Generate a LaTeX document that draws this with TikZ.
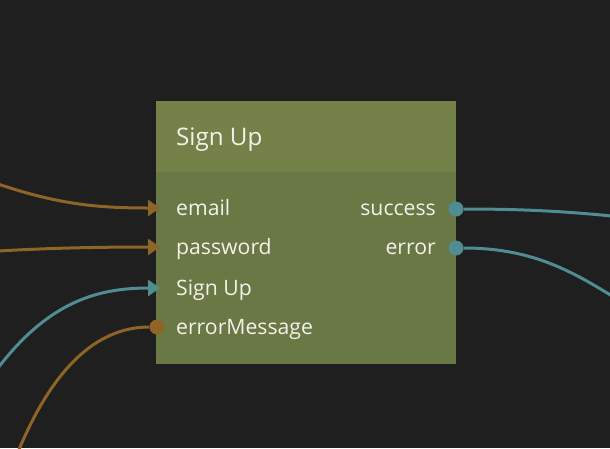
\documentclass[tikz,border=0pt]{standalone}
\usepackage{fontspec}
\setmainfont{Open Sans}
\usetikzlibrary{arrows.meta}

\definecolor{bgdark}{HTML}{1F1F1F}
\definecolor{headgreen}{HTML}{74824A}
\definecolor{bodygreen}{HTML}{6A7845}
\definecolor{wireorange}{HTML}{8F6427}
\definecolor{wireteal}{HTML}{4F8D90}
\definecolor{labelwhite}{HTML}{F2F2EA}

\begin{document}
\begin{tikzpicture}[x=1pt,y=-1pt,
    wire/.style={line width=3pt},
    tip/.style={-{Triangle[length=12pt,width=16pt]}},
    dot/.style={circle,fill,inner sep=0pt,minimum size=15pt},
    lbl/.style={text=labelwhite,font=\fontsize{21.2}{25}\selectfont,inner sep=0pt}]
    \fill[bgdark] (0,0) rectangle (610,448);
    \useasboundingbox (0,0) rectangle (610,448);
    % node body
    \fill[bodygreen] (156,101) rectangle (456,364);
    \fill[headgreen] (156,101) rectangle (456,172);
    \node[lbl,font=\fontsize{24.2}{28}\selectfont,anchor=base west] (title) at (176,145) {Sign Up};
    % ports
    \coordinate (inEmail) at (160,208);
    \coordinate (inPassword) at (160,247);
    \coordinate (inSignUp) at (160,288);
    \node[dot,wireorange] (inError) at (157,327) {};
    \node[dot,wireteal] (outSuccess) at (456,209) {};
    \node[dot,wireteal] (outError) at (456,248) {};
    \node[lbl,anchor=base west] (lEmail) at (176,215) {email};
    \node[lbl,anchor=base west] (lPassword) at (176,254) {password};
    \node[lbl,anchor=base west] (lSignUp) at (176,295) {Sign Up};
    \node[lbl,anchor=base west] (lError) at (176,334) {errorMessage};
    \node[lbl,anchor=base east] (lSuccess) at (436,215) {success};
    \node[lbl,anchor=base east] (lFail) at (436,254) {error};
    % free wire ends
    \coordinate (srcEmail) at (-2,184);
    \coordinate (srcPassword) at (-2,251);
    \coordinate (srcSignUp) at (-2,368);
    \coordinate (srcError) at (18,452);
    \coordinate (dstSuccess) at (612,216);
    \coordinate (dstError) at (612,296);
    % wires
    \draw[wire,tip,wireorange] (srcEmail) .. controls (60,205) and (100,208) .. (inEmail);
    \draw[wire,tip,wireorange] (srcPassword) .. controls (50,248) and (100,247) .. (inPassword);
    \draw[wire,tip,wireteal] (srcSignUp) .. controls (50,300) and (100,288) .. (inSignUp);
    \draw[wire,wireorange] (srcError) .. controls (60,350) and (110,327) .. (inError);
    \draw[wire,wireteal] (outSuccess) .. controls (530,209) and (570,212) .. (dstSuccess);
    \draw[wire,wireteal] (outError) .. controls (530,248) and (570,270) .. (dstError);
\end{tikzpicture}
\end{document}
